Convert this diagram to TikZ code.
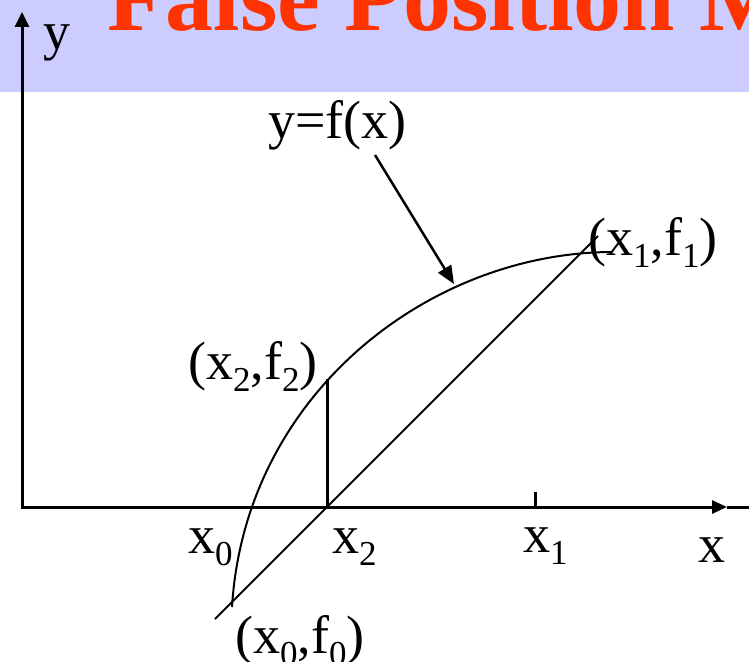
\documentclass[tikz,border=0pt]{standalone}
\usepackage{fontspec}
\setmainfont{Liberation Serif}
\usetikzlibrary{arrows.meta}
\definecolor{bandblue}{HTML}{CCCCFF}
\definecolor{titlered}{HTML}{FF3300}
\newcommand{\idx}[1]{\raisebox{-0.23em}{\fontsize{35}{35}\selectfont #1}}

\begin{document}
\begin{tikzpicture}[x=1pt,y=-1pt,
    lbl/.style={anchor=base west,inner sep=0pt,font=\fontsize{54}{60}\selectfont},
    axis/.style={line width=3pt},
    curve/.style={line width=2pt}]

      \useasboundingbox (0,0) rectangle (749,661);
      \clip (0,0) rectangle (749,661);

      % title band
      \fill[bandblue] (0,0) rectangle (749,92);
      \node[anchor=base west,inner sep=0pt,text=titlered,
            font=\fontsize{96}{100}\selectfont\bfseries] (title) at (107,31) {False Position Method};

      % axes
      \coordinate (O) at (22,507);
      \coordinate (ytip) at (22,12);
      \coordinate (xtip) at (727,507);
      \coordinate (xend) at (749,507);
      \draw[axis,{Triangle[length=15pt,width=14pt]}-{Triangle[length=15pt,width=13pt]}] (ytip) -- (O) -- (xtip);
      \draw[axis] (xtip) -- (xend);
      \node[lbl] (ylab) at (43,50) {y};
      \node[lbl] (xlab) at (698,562) {x};

      % tick at x1
      \coordinate (x1) at (535,507);
      \draw[axis] (x1) -- ++(0,-15);

      % the function y=f(x)
      \coordinate (f0) at (232,607);
      \coordinate (f1) at (613,252);
      \draw[curve] (f0) .. controls (245,394) and (430,252) .. (f1);

      % chord through (x0,f0) and (x1,f1)
      \coordinate (c0) at (215,619);
      \coordinate (c1) at (598,236);
      \draw[curve] (c0) -- (c1);

      % new point x2
      \coordinate (X2) at (327,507);
      \coordinate (F2) at (327,379);
      \draw[axis] (X2) -- (F2);

      % labels
      \node[lbl] (fxlab) at (268,138) {y=f(x)};
      \node[lbl] (p1lab) at (588,255) {(x\idx{1},f\idx{1})};
      \node[lbl] (p2lab) at (188,379) {(x\idx{2},f\idx{2})};
      \node[lbl] (p0lab) at (235,653) {(x\idx{0},f\idx{0})};
      \node[lbl] (x0lab) at (188,553) {x\idx{0}};
      \node[lbl] (x2lab) at (332,553) {x\idx{2}};
      \node[lbl] (x1lab) at (523,552) {x\idx{1}};

      % pointer to the curve
      \coordinate (fxstart) at (375,155);
      \coordinate (fxend) at (454,284);
      \draw[line width=2.5pt,-{Triangle[length=18pt,width=15pt]}] (fxstart) -- (fxend);

\end{tikzpicture}
\end{document}
